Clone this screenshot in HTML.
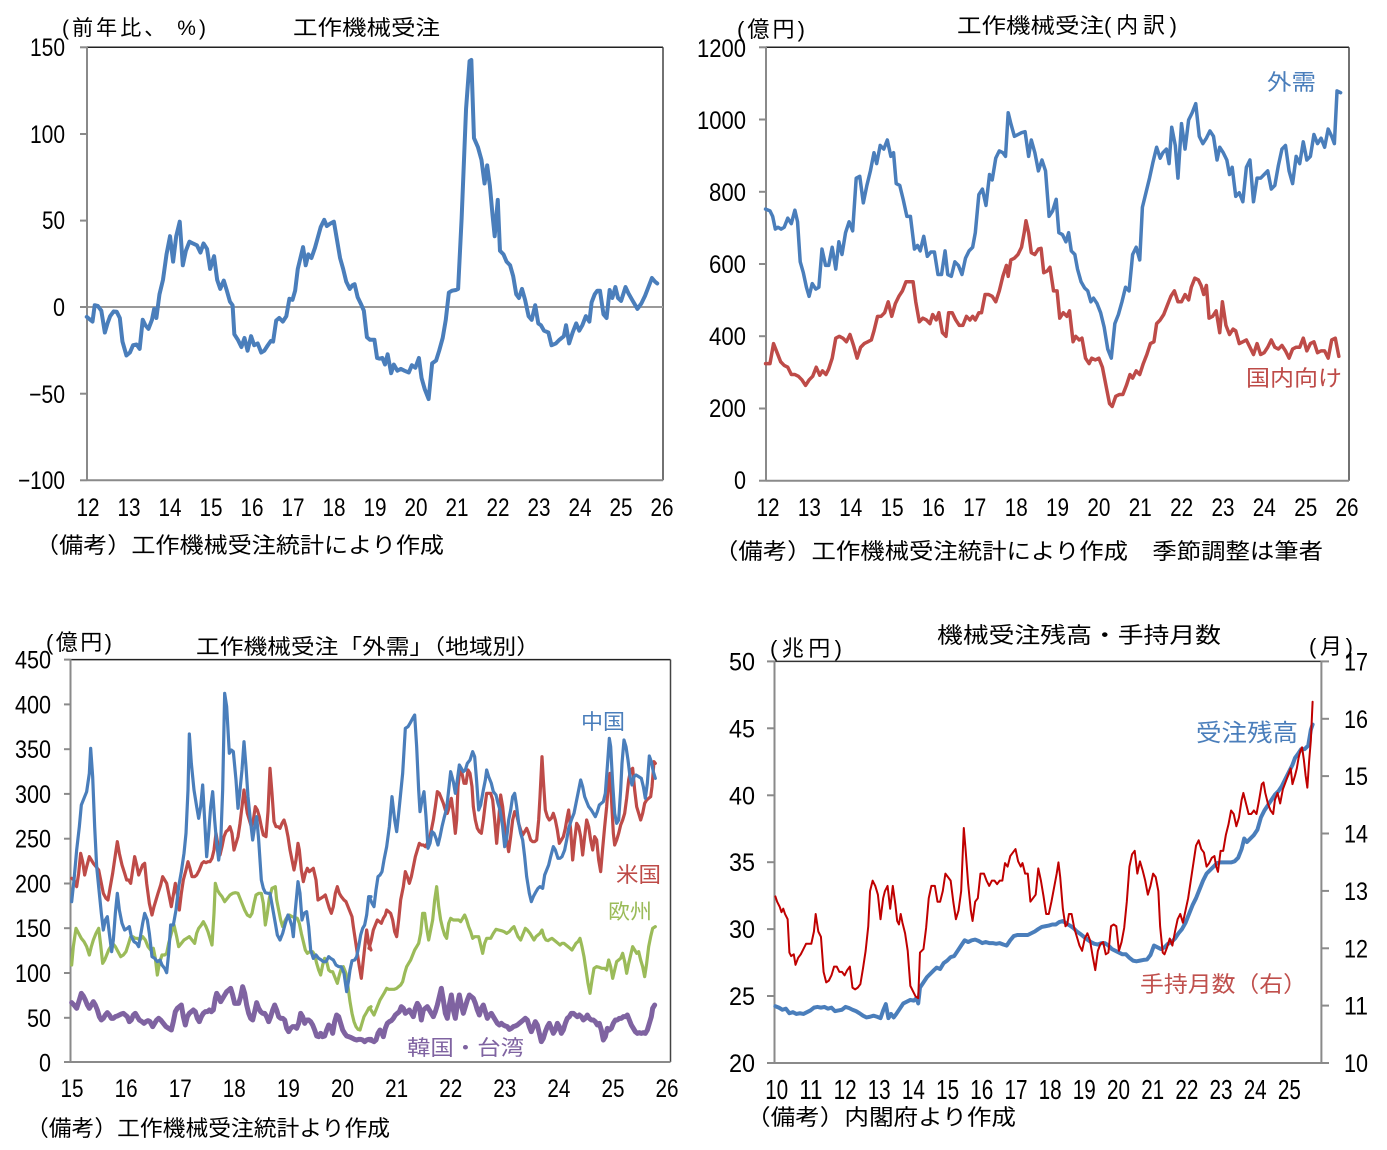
<!DOCTYPE html>
<html><head><meta charset="utf-8"><style>
html,body{margin:0;padding:0;background:#fff;}
svg{display:block;}
text{font-family:"Liberation Sans","Noto Sans CJK JP",sans-serif;fill:#000;}
.n{font-size:25px;}
.l{fill:none;stroke-linejoin:round;stroke-linecap:round;}
</style></head><body>
<svg width="1387" height="1150" viewBox="0 0 1387 1150" xmlns="http://www.w3.org/2000/svg">
<rect width="1387" height="1150" fill="#fff"/>

<!-- ============ PANEL 1 ============ -->
<g>
<line x1="87" y1="47.3" x2="663" y2="47.3" stroke="#222" stroke-width="1.5"/>
<line x1="663" y1="47.3" x2="663" y2="480.3" stroke="#444" stroke-width="1.5"/>
<line x1="87" y1="480.3" x2="663" y2="480.3" stroke="#8a8a8a" stroke-width="2"/>
<line x1="87" y1="307" x2="663" y2="307" stroke="#9a9a9a" stroke-width="2"/>
<line x1="87" y1="47" x2="87" y2="481" stroke="#8a8a8a" stroke-width="2"/>
<g stroke="#8a8a8a" stroke-width="2">
<line x1="80" y1="47.3" x2="87" y2="47.3"/><line x1="80" y1="134" x2="87" y2="134"/><line x1="80" y1="220.6" x2="87" y2="220.6"/><line x1="80" y1="307" x2="87" y2="307"/><line x1="80" y1="393.7" x2="87" y2="393.7"/><line x1="80" y1="480.3" x2="87" y2="480.3"/>
</g>
<g transform="scale(0.4405,0.3634)">
<polyline class="l" stroke="#4A7EBB" stroke-width="4" vector-effect="non-scaling-stroke" points="197,872 205,880 210,885 215,840 222,842 230,855 238,915 244,890 250,870 258,857 265,858 272,875 278,940 287,978 295,970 302,950 310,948 317,960 324,880 330,895 337,905 345,880 350,850 355,875 362,810 370,770 378,700 386,650 393,720 400,650 408,610 415,730 422,690 430,665 438,670 447,675 455,695 462,670 470,685 477,740 486,705 493,770 500,795 508,772 515,800 522,830 528,840 532,920 540,935 548,955 555,930 562,965 570,925 577,950 585,945 593,970 600,965 608,950 615,938 620,940 627,882 634,875 642,885 650,870 657,822 664,825 670,800 676,740 688,680 694,730 700,700 707,710 715,682 720,660 728,625 736,605 742,622 750,615 758,610 765,660 772,710 779,740 786,775 794,795 800,785 805,782 812,818 820,838 826,855 833,928 840,935 850,935 856,985 862,987 868,985 874,1003 880,975 888,1027 894,1003 902,1020 910,1015 918,1020 928,1025 935,1005 943,1012 951,985 957,1040 964,1070 973,1098 981,1000 990,992 997,965 1005,930 1012,880 1019,805 1026,800 1035,798 1040,795 1048,600 1058,300 1066,168 1070,165 1076,380 1085,405 1093,440 1100,505 1106,455 1112,510 1118,590 1123,650 1130,550 1135,690 1143,700 1150,720 1158,730 1165,760 1172,810 1178,820 1185,795 1192,825 1200,870 1207,880 1215,840 1222,890 1228,895 1235,910 1245,915 1252,950 1262,945 1270,935 1280,925 1285,895 1292,945 1300,915 1308,890 1315,910 1322,895 1330,870 1338,885 1343,832 1350,810 1356,800 1362,800 1370,865 1377,875 1384,798 1390,820 1397,790 1403,820 1410,828 1420,790 1427,808 1435,825 1447,850 1456,835 1464,815 1472,790 1480,765 1487,775 1492,780"/>
</g>
<text x="62" y="35" font-size="21" textLength="144" lengthAdjust="spacing">(前年比、 %)</text>
<text x="293" y="35" font-size="21" textLength="147" lengthAdjust="spacingAndGlyphs">工作機械受注</text>
<g class="n" text-anchor="end">
<text x="65" y="56" textLength="35" lengthAdjust="spacingAndGlyphs">150</text>
<text x="65" y="143" textLength="35" lengthAdjust="spacingAndGlyphs">100</text>
<text x="65" y="229" textLength="23" lengthAdjust="spacingAndGlyphs">50</text>
<text x="65" y="316" textLength="12" lengthAdjust="spacingAndGlyphs">0</text>
<text x="65" y="403" textLength="36" lengthAdjust="spacingAndGlyphs">−50</text>
<text x="65" y="489" textLength="47" lengthAdjust="spacingAndGlyphs">−100</text>
</g>
<g class="n" text-anchor="middle">
<text x="88" y="516" textLength="23" lengthAdjust="spacingAndGlyphs">12</text>
<text x="129" y="516" textLength="23" lengthAdjust="spacingAndGlyphs">13</text>
<text x="170" y="516" textLength="23" lengthAdjust="spacingAndGlyphs">14</text>
<text x="211" y="516" textLength="23" lengthAdjust="spacingAndGlyphs">15</text>
<text x="252" y="516" textLength="23" lengthAdjust="spacingAndGlyphs">16</text>
<text x="293" y="516" textLength="23" lengthAdjust="spacingAndGlyphs">17</text>
<text x="334" y="516" textLength="23" lengthAdjust="spacingAndGlyphs">18</text>
<text x="375" y="516" textLength="23" lengthAdjust="spacingAndGlyphs">19</text>
<text x="416" y="516" textLength="23" lengthAdjust="spacingAndGlyphs">20</text>
<text x="457" y="516" textLength="23" lengthAdjust="spacingAndGlyphs">21</text>
<text x="498" y="516" textLength="23" lengthAdjust="spacingAndGlyphs">22</text>
<text x="539" y="516" textLength="23" lengthAdjust="spacingAndGlyphs">23</text>
<text x="580" y="516" textLength="23" lengthAdjust="spacingAndGlyphs">24</text>
<text x="621" y="516" textLength="23" lengthAdjust="spacingAndGlyphs">25</text>
<text x="662" y="516" textLength="23" lengthAdjust="spacingAndGlyphs">26</text>
</g>
<text x="35" y="553" font-size="22" textLength="409" lengthAdjust="spacingAndGlyphs">（備考）工作機械受注統計により作成</text>
</g>

<!-- ============ PANEL 2 ============ -->
<g>
<line x1="766" y1="47.3" x2="1349" y2="47.3" stroke="#222" stroke-width="1.5"/>
<line x1="1349" y1="47.3" x2="1349" y2="480.7" stroke="#444" stroke-width="1.5"/>
<line x1="766" y1="480.7" x2="1349" y2="480.7" stroke="#8a8a8a" stroke-width="2"/>
<line x1="766" y1="47" x2="766" y2="481" stroke="#8a8a8a" stroke-width="2"/>
<g stroke="#8a8a8a" stroke-width="2">
<line x1="759" y1="47.3" x2="766" y2="47.3"/><line x1="759" y1="119.5" x2="766" y2="119.5"/><line x1="759" y1="191.8" x2="766" y2="191.8"/><line x1="759" y1="264" x2="766" y2="264"/><line x1="759" y1="336.2" x2="766" y2="336.2"/><line x1="759" y1="408.5" x2="766" y2="408.5"/><line x1="759" y1="480.7" x2="766" y2="480.7"/>
</g>
<g transform="translate(690,0) scale(0.4444,0.3636)">
<polyline class="l" stroke="#4A7EBB" stroke-width="3.5" vector-effect="non-scaling-stroke" points="170,575 180,580 186,595 192,630 198,625 205,630 212,625 220,600 228,615 236,578 242,610 248,720 255,750 262,790 268,815 275,780 283,795 290,790 297,685 305,730 312,730 320,680 328,740 335,665 342,700 350,640 358,610 366,635 374,490 382,485 390,558 398,510 406,470 414,420 420,450 428,400 436,410 444,385 452,430 458,420 464,505 472,510 480,550 488,595 496,595 505,685 512,675 518,690 526,650 534,705 542,693 550,693 558,755 566,755 574,690 580,755 588,760 596,720 604,730 612,755 620,710 628,690 636,680 642,640 650,535 658,520 666,565 674,480 680,495 688,435 696,415 704,420 710,430 716,310 722,340 730,375 738,370 746,365 754,362 762,430 768,385 776,420 784,470 792,440 800,470 808,595 816,580 824,548 830,640 838,645 846,665 852,640 858,690 866,700 872,740 880,775 888,792 895,800 902,830 908,820 916,835 924,860 932,900 940,960 948,985 956,890 964,865 972,830 980,790 988,800 996,700 1004,680 1012,715 1018,570 1026,530 1034,490 1042,445 1050,405 1058,435 1064,420 1072,410 1078,450 1084,350 1092,400 1098,490 1106,340 1114,410 1122,330 1130,310 1138,285 1146,375 1154,395 1162,380 1170,360 1178,375 1186,440 1192,405 1200,420 1208,440 1214,480 1220,460 1228,540 1236,530 1244,555 1252,460 1260,440 1268,555 1276,490 1284,490 1292,480 1300,470 1308,520 1316,510 1324,455 1332,410 1340,400 1348,470 1356,505 1364,430 1372,450 1380,390 1388,440 1396,430 1404,370 1412,395 1420,380 1428,405 1436,355 1444,375 1450,395 1456,250 1464,255"/>
<polyline class="l" stroke="#BE4B48" stroke-width="3.5" vector-effect="non-scaling-stroke" points="170,1000 180,1000 188,945 196,970 204,995 212,1005 220,1010 228,1030 236,1030 244,1035 252,1045 260,1060 268,1045 276,1035 284,1010 292,1032 298,1020 306,1030 312,1015 320,985 328,930 336,925 344,930 352,940 360,920 368,950 376,985 384,955 392,945 400,940 408,935 414,910 422,870 430,870 438,860 446,830 454,870 462,835 470,815 478,800 486,775 494,775 502,775 508,830 516,885 524,875 532,880 540,890 546,865 554,880 560,860 568,915 576,925 582,860 590,860 598,880 606,895 614,895 622,870 630,880 636,870 642,880 650,860 656,860 664,810 672,810 680,815 688,830 696,800 704,760 712,730 716,760 722,715 730,710 738,700 746,680 752,640 756,607 762,640 768,695 776,700 784,685 790,683 796,750 804,745 810,735 818,800 826,800 832,875 840,860 848,870 854,855 862,940 868,925 876,935 882,930 890,985 898,1000 904,985 912,990 920,985 928,1010 936,1060 944,1110 950,1118 958,1090 966,1085 974,1085 982,1060 990,1030 996,1040 1004,1020 1012,1030 1020,1000 1028,975 1036,945 1044,940 1050,890 1058,880 1066,865 1074,840 1082,815 1090,800 1098,830 1106,830 1114,810 1122,825 1128,790 1136,765 1144,770 1150,785 1156,810 1162,785 1168,875 1176,870 1184,855 1192,915 1198,830 1206,895 1214,920 1222,905 1228,910 1236,945 1244,940 1252,935 1260,955 1268,975 1276,945 1284,975 1292,970 1300,955 1308,935 1316,955 1324,960 1332,950 1340,965 1348,985 1356,960 1364,955 1372,955 1380,930 1388,965 1396,945 1404,940 1412,970 1420,965 1428,965 1436,985 1444,935 1452,930 1460,980"/>
</g>
<text x="737" y="37" font-size="22" textLength="68" lengthAdjust="spacing">(億円)</text>
<text x="957" y="33" font-size="21" textLength="147" lengthAdjust="spacingAndGlyphs">工作機械受注</text>
<text x="1104" y="33" font-size="22" textLength="73" lengthAdjust="spacing">(内訳)</text>
<g class="n" text-anchor="end">
<text x="746" y="57" textLength="49" lengthAdjust="spacingAndGlyphs">1200</text>
<text x="746" y="129" textLength="49" lengthAdjust="spacingAndGlyphs">1000</text>
<text x="746" y="201" textLength="37" lengthAdjust="spacingAndGlyphs">800</text>
<text x="746" y="273" textLength="37" lengthAdjust="spacingAndGlyphs">600</text>
<text x="746" y="345" textLength="37" lengthAdjust="spacingAndGlyphs">400</text>
<text x="746" y="417" textLength="37" lengthAdjust="spacingAndGlyphs">200</text>
<text x="746" y="489" textLength="12" lengthAdjust="spacingAndGlyphs">0</text>
</g>
<g class="n" text-anchor="middle">
<text x="768" y="516" textLength="23" lengthAdjust="spacingAndGlyphs">12</text>
<text x="809.4" y="516" textLength="23" lengthAdjust="spacingAndGlyphs">13</text>
<text x="850.7" y="516" textLength="23" lengthAdjust="spacingAndGlyphs">14</text>
<text x="892.1" y="516" textLength="23" lengthAdjust="spacingAndGlyphs">15</text>
<text x="933.4" y="516" textLength="23" lengthAdjust="spacingAndGlyphs">16</text>
<text x="974.8" y="516" textLength="23" lengthAdjust="spacingAndGlyphs">17</text>
<text x="1016.2" y="516" textLength="23" lengthAdjust="spacingAndGlyphs">18</text>
<text x="1057.5" y="516" textLength="23" lengthAdjust="spacingAndGlyphs">19</text>
<text x="1098.9" y="516" textLength="23" lengthAdjust="spacingAndGlyphs">20</text>
<text x="1140.2" y="516" textLength="23" lengthAdjust="spacingAndGlyphs">21</text>
<text x="1181.6" y="516" textLength="23" lengthAdjust="spacingAndGlyphs">22</text>
<text x="1223" y="516" textLength="23" lengthAdjust="spacingAndGlyphs">23</text>
<text x="1264.3" y="516" textLength="23" lengthAdjust="spacingAndGlyphs">24</text>
<text x="1305.7" y="516" textLength="23" lengthAdjust="spacingAndGlyphs">25</text>
<text x="1347" y="516" textLength="23" lengthAdjust="spacingAndGlyphs">26</text>
</g>
<text x="1267" y="90" font-size="22" textLength="49" lengthAdjust="spacingAndGlyphs" style="fill:#4A7EBB">外需</text>
<text x="1246" y="386" font-size="22" textLength="96" lengthAdjust="spacingAndGlyphs" style="fill:#BE4B48">国内向け</text>
<text x="714" y="559" font-size="22" textLength="609" lengthAdjust="spacingAndGlyphs">（備考）工作機械受注統計により作成　季節調整は筆者</text>
</g>

<!-- ============ PANEL 3 ============ -->
<g>
<line x1="70.5" y1="659.6" x2="670.5" y2="659.6" stroke="#222" stroke-width="1.5"/>
<line x1="670.5" y1="659.6" x2="670.5" y2="1062" stroke="#444" stroke-width="1.5"/>
<line x1="70.5" y1="1062" x2="670.5" y2="1062" stroke="#8a8a8a" stroke-width="2"/>
<line x1="70.5" y1="659" x2="70.5" y2="1063" stroke="#8a8a8a" stroke-width="2"/>
<g stroke="#8a8a8a" stroke-width="2">
<line x1="64" y1="659.6" x2="70.5" y2="659.6"/><line x1="64" y1="704.4" x2="70.5" y2="704.4"/><line x1="64" y1="749.2" x2="70.5" y2="749.2"/><line x1="64" y1="793.9" x2="70.5" y2="793.9"/><line x1="64" y1="838.7" x2="70.5" y2="838.7"/><line x1="64" y1="883.5" x2="70.5" y2="883.5"/><line x1="64" y1="928.2" x2="70.5" y2="928.2"/><line x1="64" y1="973" x2="70.5" y2="973"/><line x1="64" y1="1017.8" x2="70.5" y2="1017.8"/><line x1="64" y1="1062" x2="70.5" y2="1062"/>
</g>
<g transform="translate(60,680) scale(0.33333)">
<polyline class="l" stroke="#9BBB59" stroke-width="3.2" vector-effect="non-scaling-stroke" points="35,855 40,800 48,745 56,760 64,775 72,785 80,800 88,825 94,800 100,780 108,760 116,745 122,795 128,850 134,840 140,825 146,810 152,800 158,790 166,800 174,815 182,830 190,825 198,815 206,790 212,770 218,770 226,775 232,775 240,780 248,770 256,780 264,800 272,810 280,805 286,835 292,885 298,850 306,825 314,825 320,820 326,790 334,760 342,735 350,770 356,800 364,790 372,780 380,775 388,770 396,780 404,790 410,760 416,745 424,735 430,725 438,740 444,755 450,775 456,795 462,700 466,610 472,630 478,640 486,650 494,665 502,655 510,645 518,640 526,638 534,640 540,655 546,670 554,690 562,705 570,710 576,700 582,670 588,645 596,640 604,640 610,670 616,735 622,700 628,655 636,625 646,620 650,660 656,690 662,720 668,740 676,720 682,710 688,705 696,710 704,712 712,715 718,730 724,760 730,785 736,810 742,820 750,815 758,815 764,825 770,850 776,870 782,885 788,855 794,835 800,845 806,870 812,875 818,875 824,890 832,910 838,885 844,865 850,860 858,880 864,920 870,965 876,1000 882,1025 888,1040 894,1048 900,1050 906,1030 912,1010 918,1000 926,985 933,980"/>
<polyline class="l" stroke="#BE4B48" stroke-width="3.2" vector-effect="non-scaling-stroke" points="35,595 42,600 50,620 56,580 62,520 68,545 74,585 80,560 88,530 94,540 100,550 108,560 116,570 122,600 130,640 138,655 144,660 150,625 158,580 166,525 172,485 178,520 186,555 194,580 200,600 206,600 212,610 218,570 224,530 230,555 236,585 242,570 248,555 254,550 260,610 268,670 276,705 282,680 288,660 294,640 302,615 308,590 314,600 320,610 326,640 334,680 340,645 346,610 352,645 358,690 364,640 370,600 378,570 384,545 390,565 396,590 404,590 410,585 418,570 426,550 432,545 438,548 444,545 450,545 456,535 462,510 468,460 474,495 480,525 486,500 492,470 498,455 504,450 510,440 516,460 522,510 528,490 534,470 540,430 546,380 552,330 556,360 562,400 568,420 574,440 580,420 586,380 592,390 598,410 604,440 610,465 618,470 624,395 630,265 636,340 642,425 648,440 654,440 660,445 666,430 672,420 678,440 684,470 690,510 696,540 702,570 708,540 714,490 718,510 724,570 730,605 736,580 742,565 748,575 754,570 760,565 768,600 774,660 782,655 790,650 796,645 802,665 808,685 814,700 820,680 826,640 832,620 838,640 844,650 852,660 858,665 864,680 870,695 876,710 880,740 886,780 892,820 898,860 904,895 910,840 916,785 920,750 926,790 933,810"/>
<polyline class="l" stroke="#4A7EBB" stroke-width="3.2" vector-effect="non-scaling-stroke" points="35,665 42,600 50,510 58,440 64,375 72,355 80,335 88,280 92,205 98,290 104,440 110,560 118,640 124,700 130,750 136,720 142,710 148,760 155,815 160,780 166,700 172,640 178,690 186,730 194,750 202,745 208,740 214,770 222,785 230,790 236,800 242,765 248,730 254,700 262,720 268,760 276,830 284,835 292,845 300,840 306,855 314,865 320,878 326,820 332,735 340,735 348,690 356,620 364,575 372,520 378,460 384,330 388,162 394,250 402,330 410,380 416,415 422,380 428,315 434,420 440,530 446,460 452,380 458,335 464,420 470,490 476,540 482,490 488,330 494,40 500,80 508,220 514,210 520,215 528,300 534,385 540,330 546,270 552,185 558,260 564,350 570,410 578,480 584,440 590,410 596,480 604,600 610,625 616,638 624,640 630,640 638,685 646,730 652,765 660,780 668,760 676,730 684,705 690,720 696,740 700,770 706,690 714,605 720,640 726,720 732,700 740,695 746,740 752,810 760,835 768,825 776,835 784,840 790,845 798,845 806,830 812,835 820,840 828,855 836,860 844,860 852,880 860,935 866,900 870,870 876,842 884,840 890,830 896,800 902,765 908,745 914,735 920,705 926,650 933,650"/>
<polyline class="l" stroke="#7F63A1" stroke-width="5" vector-effect="non-scaling-stroke" points="35,968 42,975 50,985 58,960 64,940 70,948 76,960 82,975 88,985 94,975 100,965 106,975 112,990 118,1010 124,1020 130,1015 136,1005 142,998 148,1005 154,1015 160,1015 166,1010 172,1008 178,1005 184,1002 190,1000 196,1005 202,1010 208,1025 214,1020 220,1005 226,1000 232,1010 238,1020 246,1025 252,1030 258,1025 264,1022 270,1025 278,1040 284,1030 290,1020 296,1015 302,1020 310,1030 318,1040 326,1045 334,1050 340,1025 346,995 352,985 358,980 364,975 370,1010 376,1035 382,1010 388,1000 394,995 400,990 406,995 412,1015 418,1025 424,1010 430,1000 436,995 442,995 448,990 454,995 460,990 466,955 470,940 476,950 482,965 488,955 494,945 500,935 506,930 512,925 518,945 524,970 530,970 536,970 542,950 548,920 554,940 560,975 566,1000 572,1015 578,1020 584,995 590,968 596,985 602,995 608,1000 614,1000 620,1010 626,1025 632,1010 638,990 644,975 650,990 656,1010 662,1015 668,1015 674,1020 680,1045 686,1055 692,1045 698,1040 704,1040 710,1045 716,1030 722,1000 728,1010 734,1030 740,1020 746,1020 752,1025 758,1035 764,1050 770,1068 776,1070 782,1060 788,1070 794,1068 800,1050 806,1035 812,1040 818,1060 824,1025 830,1005 836,1010 842,1030 848,1050 854,1060 860,1068 866,1070 872,1072 878,1075 884,1078 890,1080 896,1078 902,1078 908,1080 914,1085 920,1080 926,1078 933,1078"/>
</g>
<g transform="translate(360,680) scale(0.33333)">
<polyline class="l" stroke="#9BBB59" stroke-width="3.2" vector-effect="non-scaling-stroke" points="27,984 30,985 36,995 42,1005 48,990 54,975 60,960 66,950 72,940 80,925 86,928 94,928 102,928 110,925 116,920 122,915 128,905 134,880 140,860 146,850 152,840 158,825 164,810 170,800 176,790 182,760 188,700 194,700 200,745 206,780 212,750 218,720 224,660 230,620 236,680 242,720 248,745 254,765 260,775 266,730 272,715 280,720 288,720 296,720 302,725 308,715 314,705 320,720 326,740 332,755 338,775 344,770 350,770 356,770 362,795 368,820 374,790 380,775 386,775 392,775 400,760 408,748 416,750 424,752 432,755 440,760 448,755 456,745 462,740 468,755 474,770 482,780 490,760 496,745 502,750 510,760 516,770 522,780 528,770 534,765 540,760 546,750 552,770 558,780 564,782 570,778 576,775 582,780 588,785 594,790 600,795 606,790 612,790 618,795 624,800 630,805 636,810 642,800 648,790 654,785 660,775 666,800 672,830 678,870 684,910 690,940 696,900 702,865 710,860 718,862 726,865 734,865 740,870 746,840 752,860 758,895 764,870 770,845 776,840 782,835 788,820 794,845 800,880 806,850 812,825 818,800 824,810 830,820 836,815 842,840 848,860 854,890 860,850 866,800 872,770 878,745 886,740"/>
<polyline class="l" stroke="#BE4B48" stroke-width="3.2" vector-effect="non-scaling-stroke" points="27,805 34,780 40,750 46,735 52,720 58,725 64,730 70,715 76,705 80,690 86,695 92,700 98,720 104,755 110,770 116,720 122,660 130,620 136,575 142,590 148,610 154,590 160,560 166,530 172,510 178,490 184,495 190,495 196,500 202,490 208,480 214,450 220,420 226,380 232,335 238,340 244,355 250,370 256,390 262,400 268,380 274,355 280,400 286,460 290,420 294,320 300,265 306,280 312,310 318,310 324,270 330,280 336,320 340,380 346,420 352,445 358,455 364,460 370,420 376,370 380,340 386,340 392,340 398,360 404,420 410,490 416,420 422,345 428,380 434,440 440,480 446,515 452,470 458,420 464,395 470,405 476,430 482,450 488,465 494,455 500,445 506,460 512,480 518,485 524,485 530,480 536,420 540,350 546,230 550,300 556,390 562,410 568,420 574,415 580,400 586,420 592,450 598,490 604,480 610,470 616,445 622,410 626,390 632,450 638,540 644,480 650,430 656,440 662,470 668,525 674,470 680,420 686,440 692,480 698,510 704,470 710,480 716,540 722,575 728,505 734,440 740,380 746,300 750,280 754,350 760,460 764,495 770,480 776,460 782,435 788,420 794,400 800,355 806,300 812,270 818,265 824,330 830,380 836,400 842,420 848,400 854,370 860,360 866,355 872,350 876,320 882,245 886,250"/>
<polyline class="l" stroke="#4A7EBB" stroke-width="3.2" vector-effect="non-scaling-stroke" points="27,650 28,650 36,670 42,680 48,630 54,590 60,585 66,575 72,540 80,500 88,440 96,350 104,420 110,455 116,400 122,340 128,280 136,145 144,140 150,130 158,115 164,105 170,200 176,330 180,395 186,360 192,335 198,410 204,505 210,490 216,455 222,460 228,475 234,495 240,470 246,440 252,415 260,385 266,330 272,275 280,305 286,340 292,300 298,255 304,265 310,275 316,270 322,250 330,240 338,215 344,230 350,305 356,390 362,375 370,330 376,300 380,270 386,290 394,310 400,335 408,345 414,370 420,390 428,440 434,500 440,475 446,420 452,390 458,350 464,340 470,380 476,430 482,460 488,480 494,530 500,590 508,640 514,665 520,650 528,635 534,625 540,620 548,625 554,585 560,570 566,555 572,530 580,500 586,510 594,535 600,535 606,530 614,510 620,480 626,445 634,420 642,400 648,370 656,330 662,300 668,320 674,350 680,365 686,380 694,390 700,400 706,410 712,395 718,375 724,370 730,365 736,340 742,260 748,175 752,200 758,310 764,400 770,430 776,420 782,330 786,250 792,180 798,200 804,240 810,290 816,315 822,290 828,285 836,290 844,295 850,320 856,355 862,310 868,228 874,245 880,275 886,295"/>
<polyline class="l" stroke="#7F63A1" stroke-width="5" vector-effect="non-scaling-stroke" points="27,1079 30,1080 36,1082 42,1085 48,1080 54,1060 60,1050 66,1060 70,1070 76,1045 82,1030 88,1025 94,1022 100,1015 106,1005 112,1000 118,995 124,980 130,985 136,1000 142,995 148,990 154,1000 160,1010 166,985 172,970 178,980 184,1020 190,990 196,985 202,980 208,990 214,1000 220,1010 226,995 232,975 238,950 244,925 250,960 256,1000 262,1015 268,975 274,945 280,990 286,1015 292,975 298,945 304,975 310,1000 316,980 322,960 328,945 334,950 340,955 346,970 352,990 358,1005 364,985 370,975 376,995 382,1015 388,1005 394,1000 400,1010 406,1020 412,1030 418,1035 424,1030 430,1035 436,1038 442,1040 448,1048 454,1045 460,1040 466,1038 472,1035 478,1030 484,1025 490,1020 496,1015 502,1020 508,1040 514,1055 520,1040 526,1025 532,1035 538,1060 544,1085 550,1075 556,1055 562,1040 568,1030 574,1045 580,1060 586,1050 592,1030 598,1040 604,1060 610,1050 616,1030 622,1015 628,1010 634,1000 640,1000 646,1005 652,1010 658,1005 664,1010 670,1020 676,1015 682,1005 688,1015 694,1020 700,1020 706,1025 712,1035 718,1030 724,1050 730,1080 736,1070 742,1045 748,1050 754,1045 760,1030 766,1020 772,1020 778,1015 784,1015 790,1010 796,1010 802,1005 808,1020 814,1035 820,1045 826,1055 832,1060 838,1058 844,1060 850,1058 856,1060 862,1050 868,1030 874,1010 878,985 884,975"/>
</g>
<text x="46" y="650" font-size="22" textLength="66" lengthAdjust="spacing">(億円)</text>
<text x="196" y="654" font-size="21" textLength="344" lengthAdjust="spacingAndGlyphs">工作機械受注「外需」（地域別）</text>
<g class="n" text-anchor="end">
<text x="51" y="668.6" textLength="36" lengthAdjust="spacingAndGlyphs">450</text>
<text x="51" y="713.4" textLength="36" lengthAdjust="spacingAndGlyphs">400</text>
<text x="51" y="758.2" textLength="36" lengthAdjust="spacingAndGlyphs">350</text>
<text x="51" y="802.9" textLength="36" lengthAdjust="spacingAndGlyphs">300</text>
<text x="51" y="847.7" textLength="36" lengthAdjust="spacingAndGlyphs">250</text>
<text x="51" y="892.5" textLength="36" lengthAdjust="spacingAndGlyphs">200</text>
<text x="51" y="937.2" textLength="36" lengthAdjust="spacingAndGlyphs">150</text>
<text x="51" y="982" textLength="36" lengthAdjust="spacingAndGlyphs">100</text>
<text x="51" y="1026.8" textLength="24" lengthAdjust="spacingAndGlyphs">50</text>
<text x="51" y="1071.5" textLength="12" lengthAdjust="spacingAndGlyphs">0</text>
</g>
<g class="n" text-anchor="middle">
<text x="72" y="1097" textLength="23" lengthAdjust="spacingAndGlyphs">15</text>
<text x="126.1" y="1097" textLength="23" lengthAdjust="spacingAndGlyphs">16</text>
<text x="180.2" y="1097" textLength="23" lengthAdjust="spacingAndGlyphs">17</text>
<text x="234.3" y="1097" textLength="23" lengthAdjust="spacingAndGlyphs">18</text>
<text x="288.4" y="1097" textLength="23" lengthAdjust="spacingAndGlyphs">19</text>
<text x="342.5" y="1097" textLength="23" lengthAdjust="spacingAndGlyphs">20</text>
<text x="396.6" y="1097" textLength="23" lengthAdjust="spacingAndGlyphs">21</text>
<text x="450.7" y="1097" textLength="23" lengthAdjust="spacingAndGlyphs">22</text>
<text x="504.8" y="1097" textLength="23" lengthAdjust="spacingAndGlyphs">23</text>
<text x="558.9" y="1097" textLength="23" lengthAdjust="spacingAndGlyphs">24</text>
<text x="613" y="1097" textLength="23" lengthAdjust="spacingAndGlyphs">25</text>
<text x="667" y="1097" textLength="23" lengthAdjust="spacingAndGlyphs">26</text>
</g>
<text x="581" y="729" font-size="21" textLength="44" lengthAdjust="spacingAndGlyphs" style="fill:#4A7EBB">中国</text>
<text x="616" y="882" font-size="21" textLength="45" lengthAdjust="spacingAndGlyphs" style="fill:#BE4B48">米国</text>
<text x="608" y="919" font-size="21" textLength="44" lengthAdjust="spacingAndGlyphs" style="fill:#9BBB59">欧州</text>
<text x="407" y="1055" font-size="21" textLength="117" lengthAdjust="spacingAndGlyphs" style="fill:#7F63A1">韓国・台湾</text>
<text x="26" y="1136" font-size="22" textLength="364" lengthAdjust="spacingAndGlyphs">（備考）工作機械受注統計より作成</text>
</g>

<!-- ============ PANEL 4 ============ -->
<g>
<line x1="774.5" y1="661.4" x2="1321.4" y2="661.4" stroke="#333" stroke-width="1.5"/>
<line x1="774.5" y1="1063" x2="1321.4" y2="1063" stroke="#8a8a8a" stroke-width="2"/>
<line x1="774.5" y1="661" x2="774.5" y2="1064" stroke="#8a8a8a" stroke-width="2"/>
<line x1="1321.4" y1="661" x2="1321.4" y2="1064" stroke="#8a8a8a" stroke-width="2"/>
<g stroke="#8a8a8a" stroke-width="2">
<line x1="767" y1="661.4" x2="774.5" y2="661.4"/><line x1="767" y1="728.3" x2="774.5" y2="728.3"/><line x1="767" y1="795.3" x2="774.5" y2="795.3"/><line x1="767" y1="862.2" x2="774.5" y2="862.2"/><line x1="767" y1="929.1" x2="774.5" y2="929.1"/><line x1="767" y1="996" x2="774.5" y2="996"/><line x1="767" y1="1063" x2="774.5" y2="1063"/>
<line x1="1321.4" y1="661.4" x2="1329" y2="661.4"/><line x1="1321.4" y1="718.8" x2="1329" y2="718.8"/><line x1="1321.4" y1="776.1" x2="1329" y2="776.1"/><line x1="1321.4" y1="833.5" x2="1329" y2="833.5"/><line x1="1321.4" y1="890.9" x2="1329" y2="890.9"/><line x1="1321.4" y1="948.3" x2="1329" y2="948.3"/><line x1="1321.4" y1="1005.6" x2="1329" y2="1005.6"/><line x1="1321.4" y1="1063" x2="1329" y2="1063"/>
</g>
<g transform="translate(700,600) scale(0.4382,0.3508)">
<polyline class="l" stroke="#4A7EBB" stroke-width="4" vector-effect="non-scaling-stroke" points="172,1158 180,1162 188,1168 196,1165 204,1178 212,1175 220,1180 228,1178 236,1180 244,1175 252,1170 260,1162 268,1160 276,1162 284,1160 292,1165 300,1162 308,1172 316,1170 324,1168 332,1160 340,1163 348,1168 356,1172 364,1178 372,1185 380,1190 388,1188 396,1185 404,1188 412,1192 418,1170 424,1152 430,1192 436,1180 442,1190 448,1180 456,1165 464,1150 472,1145 480,1140 488,1142 494,1135 498,1150 502,1105 510,1090 518,1075 526,1065 534,1055 540,1048 548,1052 556,1035 564,1028 572,1018 580,1015 588,1000 596,985 604,970 612,975 620,970 628,968 636,972 644,978 652,975 660,978 668,978 676,980 684,978 692,982 700,985 708,970 716,958 724,955 732,955 740,955 748,955 756,950 764,945 772,938 780,932 788,930 796,928 804,925 812,925 820,918 828,915 836,922 844,928 852,935 860,945 868,952 876,960 884,968 892,975 900,980 908,982 916,978 924,978 932,985 940,995 948,1000 956,1005 964,1010 972,1010 980,1020 988,1028 996,1030 1004,1028 1012,1026 1020,1025 1028,1012 1036,985 1044,990 1052,995 1060,990 1068,980 1076,975 1084,965 1092,950 1100,938 1108,920 1116,895 1124,870 1132,850 1140,825 1148,800 1156,780 1164,770 1172,760 1180,750 1188,748 1196,748 1204,748 1212,748 1220,745 1228,735 1236,710 1242,680 1248,690 1256,680 1264,670 1272,655 1280,620 1288,600 1296,585 1304,570 1312,555 1320,545 1328,530 1336,510 1344,490 1352,470 1358,450 1364,440 1372,425 1380,425 1388,415 1394,370 1398,355"/>
<polyline class="l" stroke="#C00000" stroke-width="2" vector-effect="non-scaling-stroke" points="172,845 176,860 182,875 186,890 190,880 194,895 200,910 204,1005 208,1015 214,1010 218,1040 224,1020 230,1010 236,995 242,980 248,980 254,980 260,945 264,895 270,945 276,960 282,1060 288,1090 294,1085 300,1070 306,1045 312,1045 318,1060 324,1060 330,1070 336,1055 342,1045 348,1105 354,1110 360,1105 366,1095 372,1050 378,1000 384,930 388,830 394,800 400,815 406,840 412,910 418,850 422,830 428,815 434,880 440,815 446,870 450,915 454,925 458,895 462,920 468,950 474,1000 480,1100 486,1115 492,1130 498,1135 502,1005 510,995 516,935 522,850 528,815 536,815 542,860 548,860 554,830 560,780 566,790 572,800 578,860 584,910 590,885 596,830 602,650 606,710 612,810 618,885 622,915 628,860 634,850 640,780 648,780 654,800 660,815 666,800 672,800 678,810 684,800 690,800 696,750 702,760 708,730 714,720 720,710 726,745 732,760 736,750 742,780 748,780 754,860 760,850 766,840 772,765 778,800 784,845 790,895 796,895 802,860 808,820 814,780 818,748 822,790 828,880 834,930 838,925 842,895 848,895 854,935 860,960 866,985 872,1000 878,965 884,950 890,970 896,1015 902,1055 908,1000 914,980 920,975 926,1010 932,1005 938,930 944,925 950,930 956,1000 962,975 968,935 974,860 980,760 986,725 992,715 998,780 1004,745 1010,770 1016,800 1022,840 1028,815 1034,780 1040,790 1046,830 1050,930 1056,1005 1060,1010 1066,990 1072,965 1078,985 1084,945 1090,910 1096,895 1102,920 1108,885 1114,850 1120,800 1126,750 1132,700 1138,685 1144,710 1150,720 1156,760 1162,750 1168,735 1174,730 1178,760 1182,775 1188,715 1194,715 1200,670 1206,640 1212,600 1218,610 1224,645 1230,620 1236,570 1240,550 1246,580 1252,610 1258,610 1264,600 1270,610 1276,570 1282,525 1286,520 1290,550 1296,580 1302,600 1308,610 1312,570 1318,550 1324,580 1330,540 1336,520 1342,500 1348,480 1352,525 1358,500 1362,480 1366,450 1370,430 1374,420 1378,455 1382,500 1386,535 1390,460 1394,400 1398,290"/>
</g>
<text x="937" y="643" font-size="22" textLength="284" lengthAdjust="spacingAndGlyphs">機械受注残高・手持月数</text>
<text x="770" y="656" font-size="22" textLength="72" lengthAdjust="spacing">(兆円)</text>
<text x="1309" y="654" font-size="22" textLength="44" lengthAdjust="spacing">(月)</text>
<g class="n" text-anchor="end">
<text x="755" y="670.4" textLength="26" lengthAdjust="spacingAndGlyphs">50</text>
<text x="755" y="737.3" textLength="26" lengthAdjust="spacingAndGlyphs">45</text>
<text x="755" y="804.3" textLength="26" lengthAdjust="spacingAndGlyphs">40</text>
<text x="755" y="871.2" textLength="26" lengthAdjust="spacingAndGlyphs">35</text>
<text x="755" y="938.1" textLength="26" lengthAdjust="spacingAndGlyphs">30</text>
<text x="755" y="1005" textLength="26" lengthAdjust="spacingAndGlyphs">25</text>
<text x="755" y="1072" textLength="26" lengthAdjust="spacingAndGlyphs">20</text>
</g>
<g class="n">
<text x="1344" y="670.4" textLength="24" lengthAdjust="spacingAndGlyphs">17</text>
<text x="1344" y="727.8" textLength="24" lengthAdjust="spacingAndGlyphs">16</text>
<text x="1344" y="785.1" textLength="24" lengthAdjust="spacingAndGlyphs">15</text>
<text x="1344" y="842.5" textLength="24" lengthAdjust="spacingAndGlyphs">14</text>
<text x="1344" y="899.9" textLength="24" lengthAdjust="spacingAndGlyphs">13</text>
<text x="1344" y="957.3" textLength="24" lengthAdjust="spacingAndGlyphs">12</text>
<text x="1344" y="1014.6" textLength="24" lengthAdjust="spacingAndGlyphs">11</text>
<text x="1344" y="1072" textLength="24" lengthAdjust="spacingAndGlyphs">10</text>
</g>
<g text-anchor="middle" font-size="28">
<text x="776.7" y="1099" textLength="23" lengthAdjust="spacingAndGlyphs">10</text>
<text x="810.9" y="1099" textLength="23" lengthAdjust="spacingAndGlyphs">11</text>
<text x="845.1" y="1099" textLength="23" lengthAdjust="spacingAndGlyphs">12</text>
<text x="879.2" y="1099" textLength="23" lengthAdjust="spacingAndGlyphs">13</text>
<text x="913.4" y="1099" textLength="23" lengthAdjust="spacingAndGlyphs">14</text>
<text x="947.6" y="1099" textLength="23" lengthAdjust="spacingAndGlyphs">15</text>
<text x="981.8" y="1099" textLength="23" lengthAdjust="spacingAndGlyphs">16</text>
<text x="1016" y="1099" textLength="23" lengthAdjust="spacingAndGlyphs">17</text>
<text x="1050.1" y="1099" textLength="23" lengthAdjust="spacingAndGlyphs">18</text>
<text x="1084.3" y="1099" textLength="23" lengthAdjust="spacingAndGlyphs">19</text>
<text x="1118.5" y="1099" textLength="23" lengthAdjust="spacingAndGlyphs">20</text>
<text x="1152.7" y="1099" textLength="23" lengthAdjust="spacingAndGlyphs">21</text>
<text x="1186.9" y="1099" textLength="23" lengthAdjust="spacingAndGlyphs">22</text>
<text x="1221" y="1099" textLength="23" lengthAdjust="spacingAndGlyphs">23</text>
<text x="1255.2" y="1099" textLength="23" lengthAdjust="spacingAndGlyphs">24</text>
<text x="1289.4" y="1099" textLength="23" lengthAdjust="spacingAndGlyphs">25</text>
</g>
<text x="1196" y="741" font-size="24" textLength="102" lengthAdjust="spacingAndGlyphs" style="fill:#4A7EBB">受注残高</text>
<text x="1140" y="992" font-size="22" textLength="167" lengthAdjust="spacingAndGlyphs" style="fill:#C0504D">手持月数（右）</text>
<text x="746" y="1125" font-size="22" textLength="270" lengthAdjust="spacingAndGlyphs">（備考）内閣府より作成</text>
</g>
</svg>
</body></html>
